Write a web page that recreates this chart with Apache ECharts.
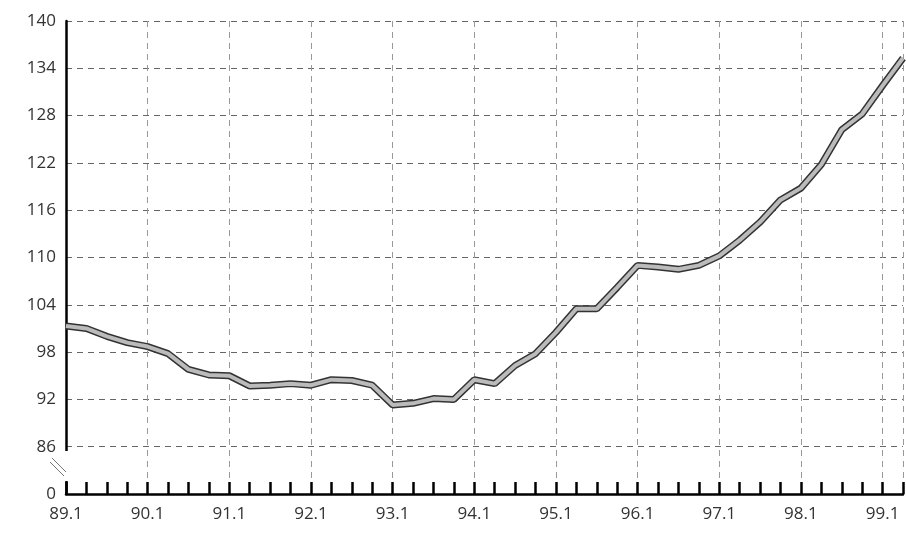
<!DOCTYPE html>
<html>
<head>
<meta charset="utf-8">
<script src="https://cdn.jsdelivr.net/npm/echarts@6/dist/echarts.min.js"></script>
<style>html,body{margin:0;background:#fff}#c{width:906px;height:534px}</style>
</head>
<body>
<div id="c"></div>
<script>
// 季度指数，89.1 ~ 99.2
const years = ['89.1', '90.1', '91.1', '92.1', '93.1', '94.1', '95.1', '96.1', '97.1', '98.1', '99.1'];
const values = [101.3, 101.0, 100.0, 99.2, 98.7, 97.8, 95.8, 95.1, 95.0, 93.7,
    93.8, 94.0, 93.8, 94.5, 94.4, 93.8, 91.3, 91.5, 92.1, 92.0,
    94.5, 94.0, 96.3, 97.8, 100.5, 103.5, 103.5, 106.2, 109.0, 108.8,
    108.5, 109.0, 110.2, 112.2, 114.5, 117.3, 118.8, 121.8, 126.2, 128.2,
    131.8, 135.3];
const yBase = 80; // 显示为 0（断轴）

const points = values.map((v, i) => [i, v]);
const chart = echarts.init(document.getElementById('c'));
const font = { fontFamily: 'Open Sans', fontSize: 17, color: '#333' };

chart.setOption({
    animation: false,
    grid: { left: 66, right: 2, top: 21, bottom: 40 },
    xAxis: {
        type: 'value', min: 0, max: 41, interval: 4,
        axisLine: { lineStyle: { color: '#000', width: 2.5 } },
        axisTick: { inside: true, length: 12, lineStyle: { color: '#000', width: 2.5 } },
        minorTick: { show: true, splitNumber: 4, length: 12, lineStyle: { color: '#000', width: 2.5 } },
        axisLabel: Object.assign({ margin: 12, formatter: v => years[v / 4] || '' }, font),
        splitLine: { show: true, lineStyle: { type: [6, 5], color: '#999' } }
    },
    yAxis: {
        type: 'value', min: yBase, max: 140, interval: 6,
        axisLine: { show: true, lineStyle: { color: '#000', width: 2.5 } },
        axisTick: { show: false },
        axisLabel: Object.assign({ margin: 10, formatter: v => v === yBase ? '0' : v }, font),
        splitLine: { lineStyle: { type: [6, 5], color: '#666' } }
    },
    graphic: [
        { type: 'rect', z: 100, shape: { x: 62, y: 451, width: 8, height: 30 }, style: { fill: '#fff' } },
        { type: 'line', z: 101, shape: { x1: 52, y1: 458, x2: 66, y2: 472 }, style: { stroke: '#777', lineWidth: 1 } },
        { type: 'line', z: 101, shape: { x1: 50, y1: 462, x2: 64, y2: 476 }, style: { stroke: '#777', lineWidth: 1 } }
    ],
    series: [
        { type: 'line', data: points, symbol: 'none', lineStyle: { color: '#333', width: 7 }, z: 3 },
        { type: 'line', data: points, symbol: 'none', lineStyle: { color: '#bbb', width: 4 }, z: 4 }
    ]
});
</script>
</body>
</html>
